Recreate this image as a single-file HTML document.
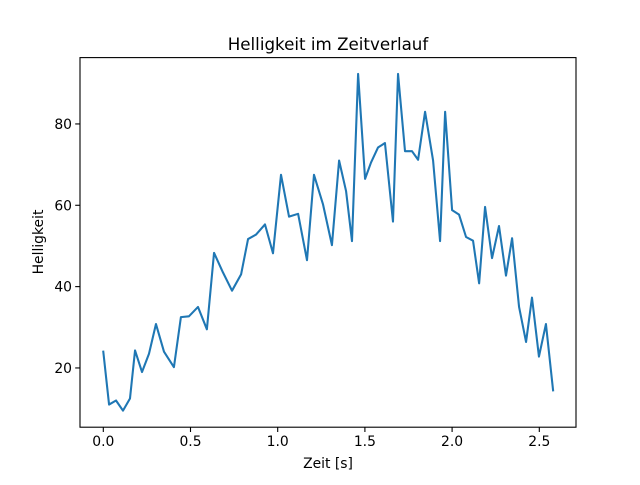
<!DOCTYPE html>
<html><head><meta charset="utf-8"><style>
body{margin:0;background:#fff;}
svg text{font-family:"DejaVu Sans","Liberation Sans",sans-serif;fill:#000;}
</style></head><body>
<svg width="640" height="480" viewBox="0 0 640 480">
<rect x="0" y="0" width="640" height="480" fill="#fff"/>
<g id="ticks"></g>
<path id="line" fill="none" stroke="#1f77b4" stroke-width="2.08" stroke-linejoin="round" stroke-linecap="square"/>
<rect x="80" y="57.6" width="496" height="369.6" fill="none" stroke="#000" stroke-width="1.1"/>
<text x="328" y="50" font-size="16.7" text-anchor="middle">Helligkeit im Zeitverlauf</text>
<text x="328" y="468" font-size="13.9" text-anchor="middle">Zeit [s]</text>
<text transform="translate(43,242) rotate(-90)" font-size="13.9" text-anchor="middle">Helligkeit</text>
</svg>
<script>
const times=[0,.033,.073,.113,.153,.182,.222,.262,.302,.348,.405,.445,.491,.543,.594,.635,.686,.738,.790,.830,.876,.927,.973,1.019,1.065,1.117,1.168,1.208,1.260,1.311,1.352,1.392,1.426,1.461,1.501,1.535,1.575,1.615,1.661,1.690,1.730,1.770,1.805,1.845,1.891,1.931,1.960,2.000,2.040,2.080,2.120,2.155,2.189,2.229,2.269,2.309,2.344,2.384,2.424,2.458,2.498,2.538,2.579];
const values=[24,11,12,9.5,12.5,24.3,19,23.5,30.8,24,20.2,32.5,32.7,35,29.5,48.3,43.5,39,43,51.7,52.8,55.3,48.2,67.5,57.2,57.9,46.5,67.5,60.2,50.2,71,63.5,51.2,92.3,66.5,70.5,74.2,75.3,56,92.3,73.3,73.3,71.2,83,71,51.2,83,58.8,57.7,52.2,51.3,40.8,59.6,47,54.9,42.7,51.9,35,26.4,37.3,22.8,30.8,14.5];
const xTicks=[0,0.5,1.0,1.5,2.0,2.5];
const yTicks=[20,40,60,80];
const xs=t=>103.3+t*174.4;
const ys=v=>449.3-v*4.067;
const ns="http://www.w3.org/2000/svg";
const line=document.getElementById('line');
line.setAttribute('d',times.map((t,i)=>(i?'L':'M')+xs(t).toFixed(2)+','+ys(values[i]).toFixed(2)).join(''));
const g=document.getElementById('ticks');
xTicks.forEach(t=>{
 const l=document.createElementNS(ns,'line');
 
 
 l.setAttribute('x1',xs(t));l.setAttribute('x2',xs(t));l.setAttribute('y1',427.2);l.setAttribute('y2',432);l.setAttribute('stroke','#000');l.setAttribute('stroke-width','1.1');
 g.appendChild(l);
 const tx=document.createElementNS(ns,'text');
 
 
 tx.setAttribute('x',xs(t));tx.setAttribute('y',446);tx.setAttribute('font-size','13.9');tx.setAttribute('text-anchor','middle');
 tx.textContent=t.toFixed(1);
 g.appendChild(tx);
});
yTicks.forEach(v=>{
 const l=document.createElementNS(ns,'line');
 
 
 l.setAttribute('x1',75.2);l.setAttribute('x2',80);l.setAttribute('y1',ys(v));l.setAttribute('y2',ys(v));l.setAttribute('stroke','#000');l.setAttribute('stroke-width','1.1');
 g.appendChild(l);
 const tx=document.createElementNS(ns,'text');
 
 
 tx.setAttribute('x',72);tx.setAttribute('y',ys(v)+5);tx.setAttribute('font-size','13.9');tx.setAttribute('text-anchor','end');
 tx.textContent=v;
 g.appendChild(tx);
});
</script>
</body></html>
